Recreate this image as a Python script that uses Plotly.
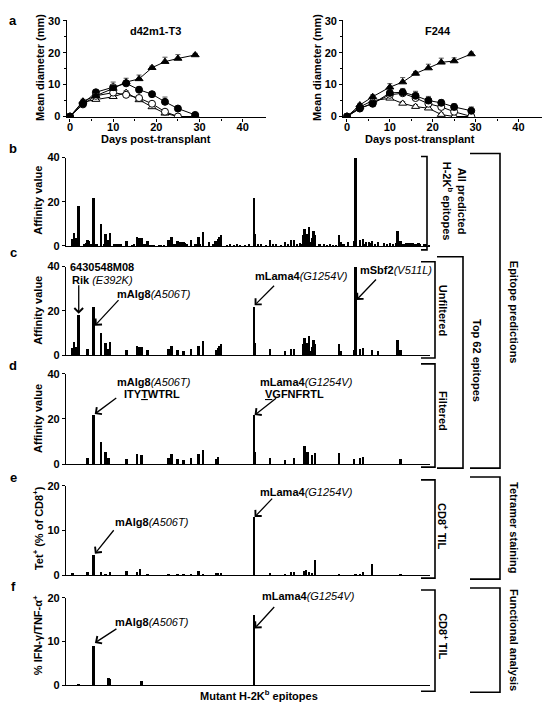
import plotly.graph_objects as go

# The page body has an 8px margin, so the figure is sized to fit inside the window
OFF = 8
FW, FH = 536, 701
FONT = "Liberation Sans, Arial, Helvetica, sans-serif"

# ---------------- Panel a data ----------------
days = [0, 3, 6, 10, 13, 16, 19, 22, 25, 29]

d42_tri_filled = [0, 4.8, 6.5, 8.8, 10.8, 11.8, 15.3, 17.2, 18.2, 19.3]
d42_tri_filled_err = [0, 0.6, 0.6, 1.2, 1.2, 1.2, 0.5, 1.4, 1.2, 0.5]
d42_circ_filled = [0, 4.0, 7.6, 9.2, 10.4, 8.4, 7.0, 4.6, 2.5, 0.5]
d42_circ_filled_err = [0, 0.5, 0.6, 1.6, 0.9, 0.9, 0.7, 1.5, 0.5, 0.5]
d42_circ_open = [0, 3.8, 6.5, 7.5, 6.8, 5.8, 4.0, 1.5, 0, 0]
d42_tri_open = [0, 4.5, 5.3, 6.2, 7.5, 5.2, 3.0, 1.0, 0, 0]
small_err = [0, 0.4, 0.5, 0.6, 0.6, 0.6, 0.5, 0.5, 0.3, 0]

f244_tri_filled = [0, 3.6, 6.2, 9.2, 10.8, 13.5, 15.2, 17.0, 17.4, 19.6]
f244_tri_filled_err = [0, 0.5, 0.6, 1.1, 1.4, 0.6, 1.2, 1.3, 1.0, 0.6]
f244_circ_filled = [0, 2.6, 4.0, 7.4, 7.6, 6.5, 5.0, 4.3, 3.0, 1.8]
f244_circ_filled_err = [0, 0.5, 0.6, 1.0, 1.2, 1.4, 1.3, 0.9, 1.0, 1.2]
f244_circ_open = [0, 2.5, 4.2, 6.8, 7.3, 5.8, 4.0, 3.0, 1.5, 0]
f244_tri_open = [0, 3.0, 5.0, 5.7, 4.1, 3.1, 2.6, 0.6, 0, 0]

day_ticks = [0, 10, 20, 30, 40]
diam_ticks = [0, 10, 20, 30]

# ---------------- Panels b-f data (epitope rank index) ----------------
b_idx = [4, 5, 6, 7, 8, 12, 13, 14, 15, 16, 18, 20, 23, 25, 26, 28, 29, 32, 33, 34, 36, 40,
         44, 45, 47, 48, 49, 50, 52, 53, 54, 56, 58, 62, 63, 65, 68, 70, 72, 73, 74, 76, 77,
         78, 79, 80, 83, 86, 88, 89, 91, 95, 98, 99, 100, 101, 102, 103, 107, 109, 112, 114,
         116, 119, 122, 125, 126, 128, 130, 133, 136, 138, 140, 143, 146, 148, 150, 152, 154,
         156, 157, 158, 159, 160, 161, 162, 163, 164, 165, 166, 169, 172, 174, 176, 178, 180,
         182, 183, 185, 188, 192, 193, 196, 198, 199, 200, 202, 203, 204, 206, 208, 212, 214,
         216, 218, 220, 221, 223, 225, 227, 229, 231, 233, 235, 236, 239, 240, 242]
b_val = [3.5, 6, 4, 4, 18.5, 1, 1.5, 3, 2.5, 1, 22, 1, 10, 1, 5.5, 3, 6, 1.2, 1, 1.2, 1, 2.5,
         0.5, 1, 4.5, 4, 4, 4, 1, 1, 2.5, 0.8, 0.5, 0.8, 0.8, 0.5, 3, 4.5, 1, 0.8, 2.5, 2, 2,
         2, 1.5, 1, 3, 1, 4.5, 1, 6.5, 2, 1, 2.5, 2.5, 3.5, 4.5, 5, 0.5, 1, 0.5, 1,
         0.5, 0.5, 1, 22, 5.5, 1, 1, 0.5, 3, 1, 1, 0.5, 2, 1, 3, 3, 1,
         1.5, 1, 5, 8, 2, 5.5, 9, 2, 4, 7, 5, 1, 1, 0.5, 1, 0.5, 0.5,
         5, 2, 1, 2, 2.5, 40, 3, 3.5, 1, 2, 2, 1.5, 2.5, 1, 2, 1.5, 1,
         1.5, 1, 1.5, 7, 2.5, 1, 1.5, 1.5, 1.5, 1, 1.5, 1, 1, 1, 0.8]

c_idx = [4, 5, 6, 7, 8, 14, 18, 23, 26, 28, 29, 40, 47, 48, 49, 50, 54, 68, 70, 74, 78, 83, 88,
         91, 100, 101, 102, 103, 125, 126, 136, 146, 150, 152, 158, 159, 160, 161, 162, 163,
         164, 165, 166, 182, 183, 192, 193, 196, 198, 204, 208, 221, 223]
c_val = [3.5, 6, 4, 4, 18.5, 3, 22, 10, 5.5, 3, 6, 2.5, 4.5, 4, 4, 4, 2.5, 3, 4.5, 2.5, 2, 3, 4.5,
         6.5, 2.5, 3.5, 4.5, 5, 22, 5.5, 3, 2, 3, 3, 5, 8, 2, 5.5, 9, 2,
         4, 7, 5, 5, 2, 2.5, 40, 3, 3.5, 2.5, 2, 7, 2.5]

d_idx = [14, 18, 23, 26, 28, 40, 47, 50, 68, 70, 74, 78, 83, 88, 91, 100, 101, 125, 126, 136,
         146, 152, 159, 160, 161, 164, 166, 182, 192, 196, 198, 223]
d_val = [3, 22, 10, 5.5, 3, 2.5, 4.5, 4, 3, 4.5, 2.5, 2, 3, 4.5, 6.5, 2.5, 3.5, 22, 5.5, 3,
         2, 3, 8, 2, 5.5, 4, 5, 5, 2.5, 3, 3.5, 2.5]

e_idx = [4, 14, 18, 23, 26, 29, 40, 47, 49, 54, 68, 74, 78, 83, 88, 91, 100, 101, 103, 125, 136,
         146, 150, 152, 159, 160, 162, 164, 166, 182, 193, 196, 198, 204, 223]
e_val = [0.5, 0.8, 4.6, 0.8, 0.3, 0.8, 1.1, 0.7, 1.4, 0.3, 0.2, 0.4, 0.3, 0.3, 1.1, 0.4, 0.5, 0.5,
         0.5, 13, 0.5, 0.3, 0.7, 0.8, 1.1, 1.2, 0.7, 0.5, 3.5, 0.2, 0.2, 0.4, 0.8, 2.5, 0.4]

f_idx = [8, 18, 28, 29, 50, 125]
f_val = [0.4, 9, 1.7, 1.5, 1.1, 16.2]

affinity_ticks = [0, 20, 40]
percent_ticks = [0, 10, 20]


# ---------------- helpers (reference-pixel -> paper fraction) ----------------
def px(x):
    return (x - OFF) / FW


def py(y):
    return 1 - (y - OFF) / FH


def xdom(a, b):
    return [px(a), px(b)]


def ydom(top, bottom):
    return [py(bottom), py(top)]


fig = go.Figure()


def growth(xa, ya, y, err, symbol, filled):
    marker = dict(symbol=symbol, size=7, color='black' if filled else 'white',
                  line=dict(color='black', width=1))
    fig.add_trace(go.Scatter(
        x=days, y=y, xaxis=xa, yaxis=ya, mode='lines+markers',
        line=dict(color='black', width=1), marker=marker,
        error_y=dict(type='data', array=err, arrayminus=[0] * len(err), symmetric=False,
                     color='#555555', thickness=1, width=2.5),
        showlegend=False, hoverinfo='skip'))


for xa, ya, to, co, cf, tf, cfe, tfe in [
    ('x', 'y', d42_tri_open, d42_circ_open, d42_circ_filled, d42_tri_filled,
     d42_circ_filled_err, d42_tri_filled_err),
    ('x2', 'y2', f244_tri_open, f244_circ_open, f244_circ_filled, f244_tri_filled,
     f244_circ_filled_err, f244_tri_filled_err)]:
    growth(xa, ya, to, small_err, 'triangle-up', False)
    growth(xa, ya, co, small_err, 'circle', False)
    growth(xa, ya, cf, cfe, 'circle', True)
    growth(xa, ya, tf, tfe, 'triangle-up', True)

for n, (ix, vals) in enumerate([(b_idx, b_val), (c_idx, c_val), (d_idx, d_val),
                                (e_idx, e_val), (f_idx, f_val)], start=3):
    fig.add_trace(go.Bar(x=ix, y=vals, xaxis=f'x{n}', yaxis=f'y{n}', width=1.25,
                         marker=dict(color='black', line=dict(width=0)),
                         showlegend=False, hoverinfo='skip'))

tickfont = dict(family=FONT, size=11, color='black', weight='bold')
axline = dict(showline=True, linecolor='black', linewidth=1.3, showgrid=False, zeroline=False,
              tickcolor='black', tickwidth=1.3)

layout = dict(width=FW, height=FH, margin=dict(l=0, r=0, t=0, b=0),
              paper_bgcolor='white', plot_bgcolor='white', showlegend=False,
              font=dict(family=FONT, color='black'), bargap=0)

# panel a axes
for xa, ya, xd, xr in [('xaxis', 'yaxis', xdom(66.7, 266), [-0.76, 45.4]),
                       ('xaxis2', 'yaxis2', xdom(343.3, 542), [-0.86, 45.5])]:
    yname = 'y' if ya == 'yaxis' else 'y2'
    xname = 'x' if xa == 'xaxis' else 'x2'
    layout[xa] = dict(domain=xd, range=xr, anchor=yname, tickvals=day_ticks, ticks='outside',
                      ticklen=3, tickfont=tickfont, ticklabelstandoff=-4,
                      minor=dict(tickvals=[5, 15, 25, 35], ticks='outside', ticklen=2,
                                 tickwidth=1, tickcolor='black'), **axline)
    layout[ya] = dict(domain=ydom(14, 113.3), range=[-0.31, 30.3], anchor=xname,
                      tickvals=diam_ticks, ticks='outside', ticklen=3, tickfont=tickfont,
                      minor=dict(tickvals=[5, 15, 25], ticks='outside', ticklen=2,
                                 tickwidth=1, tickcolor='black'), **axline)

bar_panels = [(3, 154, 244, 40, affinity_ticks), (4, 265, 355, 40, affinity_ticks),
              (5, 374, 466, 40, affinity_ticks), (6, 488, 579, 20, percent_ticks),
              (7, 602, 691, 20, percent_ticks)]
for n, top, bot, ymax, tv in bar_panels:
    layout[f'xaxis{n}'] = dict(domain=xdom(66, 430), range=[-0.5, 242.5], anchor=f'y{n}',
                               ticks='', showticklabels=False, **axline)
    layout[f'yaxis{n}'] = dict(domain=ydom(top, bot), range=[0, ymax], anchor=f'x{n}',
                               tickvals=tv, ticks='outside', ticklen=3, tickfont=tickfont,
                               **axline)

ann = []


def txt(x, y, text, size=11, xanchor='left', angle=0):
    ann.append(dict(x=px(x), y=py(y), xref='paper', yref='paper', text=text, showarrow=False,
                    xanchor=xanchor, yanchor='middle', textangle=angle,
                    font=dict(family=FONT, size=size, color='black')))


def arrow(n, x, y, ax, ay):
    ann.append(dict(x=x, y=y, xref=f'x{n}', yref=f'y{n}', ax=ax, ay=ay, axref='pixel',
                    ayref='pixel', showarrow=True, arrowhead=4, arrowsize=1.3,
                    arrowwidth=1.3, arrowcolor='black', text='', standoff=0))


# panel letters
for letter, yy in [('a', 15), ('b', 145), ('c', 251), ('d', 366), ('e', 480), ('f', 590)]:
    txt(13, yy, f'<b>{letter}</b>', size=13, xanchor='center')

# panel a texts
txt(155, 25, '<b>d42m1-T3</b>', xanchor='center')
txt(438, 25, '<b>F244</b>', xanchor='center')
txt(40, 63, '<b>Mean diameter (mm)</b>', xanchor='center', angle=-90)
txt(317, 63, '<b>Mean diameter (mm)</b>', xanchor='center', angle=-90)
txt(156, 135, '<b>Days post-transplant</b>', xanchor='center')
txt(420, 135, '<b>Days post-transplant</b>', xanchor='center')

# y titles of bar panels
txt(38, 198, '<b>Affinity value</b>', xanchor='center', angle=-90)
txt(38, 310, '<b>Affinity value</b>', xanchor='center', angle=-90)
txt(38, 420, '<b>Affinity value</b>', xanchor='center', angle=-90)
txt(38, 531, '<b>Tet<sup>+</sup> (% of CD8<sup>+</sup>)</b>', xanchor='center', angle=-90)
txt(38, 640, '<b>% IFN-γ/TNF-α<sup>+</sup></b>', xanchor='center', angle=-90)

# c annotations
txt(68, 265, '<b>6430548M08</b>')
txt(70, 279, '<b>Rik</b> <i>(E392K)</i>')
txt(115, 293, '<b>mAlg8</b><i>(A506T)</i>')
txt(253, 275, '<b>mLama4</b><i>(G1254V)</i>')
txt(358, 268, '<b>mSbf2</b><i>(V511L)</i>')
arrow(4, 8, 18.7, 0, -30)
arrow(4, 18.8, 13.3, 25, -27)
arrow(4, 125.4, 22.5, 21, -21)
arrow(4, 193.4, 24.9, 21, -22)

# d annotations
txt(115, 382, '<b>mAlg8</b><i>(A506T)</i>')
txt(122, 395, '<b>ITY<u>T</u>WTRL</b>')
txt(258, 382, '<b>mLama4</b><i>(G1254V)</i>')
txt(263, 395, '<b><u>V</u>GFNFRTL</b>')
arrow(5, 18.7, 22.2, 23, -17)
arrow(5, 125.4, 21.7, 23, -18)

# e annotations
txt(258, 494, '<b>mLama4</b><i>(G1254V)</i>')
txt(113, 525, '<b>mAlg8</b><i>(A506T)</i>')
arrow(6, 125.4, 13, 19, -20)
arrow(6, 18.8, 4.8, 20, -25)

# f annotations
txt(260, 600, '<b>mLama4</b><i>(G1254V)</i>')
txt(113, 627, '<b>mAlg8</b><i>(A506T)</i>')
arrow(7, 125.4, 13, 21, -23)
arrow(7, 18.8, 9.7, 23, -15)

txt(259, 701, '<b>Mutant H-2K<sup>b</sup> epitopes</b>', xanchor='center')

# right-side labels
txt(455, 198, '<b>All predicted<br>H-2K<sup>b</sup> epitopes</b>', xanchor='center', angle=90)
txt(443, 309, '<b>Unfiltered</b>', xanchor='center', angle=90)
txt(443, 412, '<b>Filtered</b>', xanchor='center', angle=90)
txt(477, 360, '<b>Top 62 epitopes</b>', xanchor='center', angle=90)
txt(514, 311, '<b>Epitope predictions</b>', xanchor='center', angle=90)
txt(443, 529, '<b>CD8<sup>+</sup> TIL</b>', xanchor='center', angle=90)
txt(514, 531, '<b>Tetramer staining</b>', xanchor='center', angle=90)
txt(443, 641, '<b>CD8<sup>+</sup> TIL</b>', xanchor='center', angle=90)
txt(514, 645, '<b>Functional analysis</b>', xanchor='center', angle=90)

layout['annotations'] = ann

shapes = []


def bracket(x0, x1, y0, y1):
    path = (f'M{px(x0)},{py(y0)} L{px(x1)},{py(y0)} '
            f'L{px(x1)},{py(y1)} L{px(x0)},{py(y1)}')
    shapes.append(dict(type='path', path=path, xref='paper', yref='paper',
                       line=dict(color='black', width=1.6)))


bracket(421, 427, 153, 248)
bracket(421, 435, 260, 358)
bracket(421, 435, 364, 469)
bracket(437, 463, 255, 470)
bracket(470, 500, 150, 470)
bracket(421, 435, 482, 582)
bracket(470, 500, 479, 583)
bracket(421, 435, 594, 697)
bracket(470, 500, 592, 698)

layout['shapes'] = shapes

fig.update_layout(**layout)
fig.write_html('out.html')
